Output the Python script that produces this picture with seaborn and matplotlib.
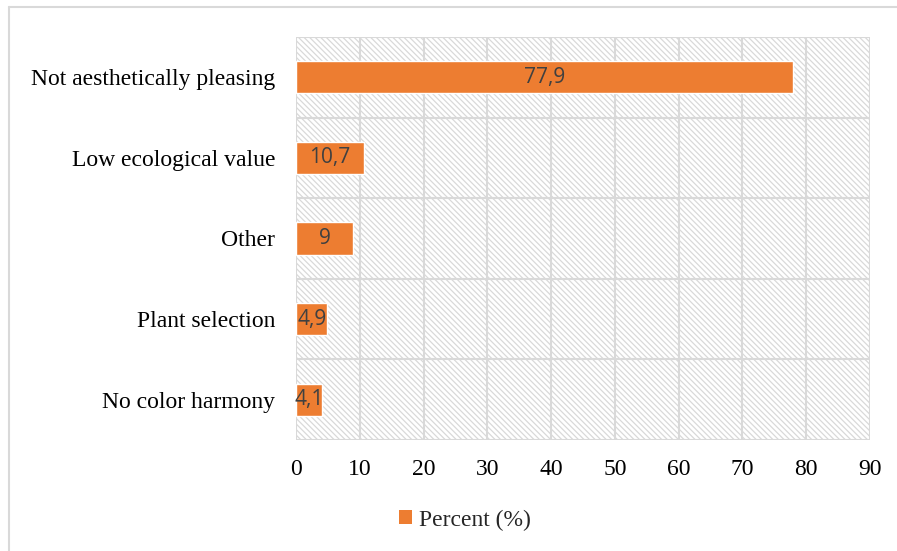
import matplotlib
matplotlib.use('Agg')
from matplotlib import pyplot as plt
from matplotlib.patches import Rectangle
from matplotlib.lines import Line2D
import pandas as pd
import seaborn as sns

sns.set_style('white')
plt.rcParams['hatch.linewidth'] = 0.9

# data
reasons = ['Not aesthetically pleasing', 'Low ecological value', 'Other',
           'Plant selection', 'No color harmony']
percent = [77.9, 10.7, 9.0, 4.9, 4.1]
value_labels = ['77,9', '10,7', '9', '4,9', '4,1']

df = pd.DataFrame({'reason': reasons, 'percent': percent})

orange = '#ED7D31'
grid_grey = '#D9D9D9'

fig = plt.figure(figsize=(8.97, 5.51), dpi=100)
ax = fig.add_axes([296/897, 1-440/551, (870-296)/897, (440-37)/551])

# hatched plot area background
ax.add_patch(Rectangle((0, 0), 1, 1, transform=ax.transAxes, facecolor='white',
                       edgecolor=grid_grey, hatch='\\' * 6, linewidth=0, zorder=0))

sns.barplot(data=df, y='reason', x='percent', color=orange, width=0.4,
            saturation=1, ax=ax, zorder=3, legend=False)

ax.set_xlim(0, 90)
ax.set_ylim(4.5, -0.5)
ax.set_xticks(range(0, 91, 10))
ax.set_xlabel('')
ax.set_ylabel('')

# grid lines: vertical at ticks, horizontal at category boundaries
for x in range(0, 91, 10):
    ax.axvline(x, color=grid_grey, linewidth=1.5, zorder=1)
for y in [-0.5, 0.5, 1.5, 2.5, 3.5, 4.5]:
    ax.axhline(y, color=grid_grey, linewidth=1.5, zorder=1)
for s in ax.spines.values():
    s.set_visible(False)

ax.tick_params(axis='both', length=0)
for lab in ax.get_xticklabels() + ax.get_yticklabels():
    lab.set_fontfamily('Liberation Serif')
    lab.set_fontsize(17)
    lab.set_color('black')
ax.tick_params(axis='y', pad=15)
ax.tick_params(axis='x', pad=14)

# value labels centred on each bar
for i, (v, t) in enumerate(zip(percent, value_labels)):
    ax.text(v / 2, i, t, ha='center', va='center', fontsize=15,
            color='#404040', family='Open Sans', zorder=4)

# legend at the bottom
handle = Rectangle((0, 0), 1, 1, facecolor=orange, edgecolor='none')
fig.legend([handle], ['Percent (%)'], loc='center', bbox_to_anchor=(0.518, 1-520/551),
           frameon=False, prop={'family': 'Liberation Serif', 'size': 17},
           handlelength=0.55, handleheight=0.55, handletextpad=0.3)

# outer chart border (top and left visible)
fig.add_artist(Line2D([9/897, 1], [1-7/551, 1-7/551], transform=fig.transFigure,
                      color=grid_grey, linewidth=1.5))
fig.add_artist(Line2D([9/897, 9/897], [0, 1-7/551], transform=fig.transFigure,
                      color=grid_grey, linewidth=1.5))

plt.savefig('out.png', dpi=100)
